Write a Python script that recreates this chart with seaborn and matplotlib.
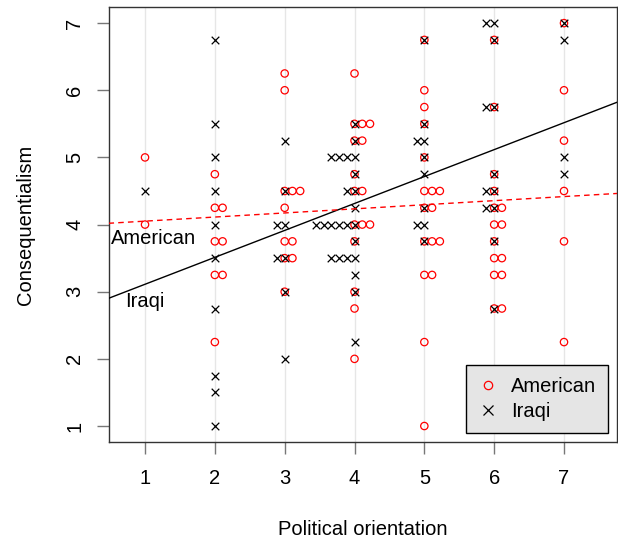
import matplotlib
matplotlib.use("Agg")
import matplotlib.pyplot as plt
from matplotlib.lines import Line2D
import pandas as pd
import seaborn as sns

# political orientation categories on the x axis
orientation = [1, 2, 3, 4, 5, 6, 7]

# consequentialism scores, one list per orientation value
american_scores = [
    [5.0, 4.0],
    [4.75, 4.25, 4.25, 3.75, 3.75, 3.25, 3.25, 2.25],
    [6.25, 6.0, 4.5, 4.5, 4.5, 4.25, 3.75, 3.75, 3.5, 3.5, 3.0],
    [6.25, 5.5, 5.5, 5.5, 5.25, 5.25, 4.75, 4.5, 4.5, 4.0, 4.0, 4.0, 3.75, 3.0, 2.75, 2.0],
    [6.75, 6.0, 5.75, 5.5, 5.0, 4.5, 4.5, 4.5, 4.25, 4.25, 3.75, 3.75, 3.75, 3.25, 3.25, 2.25, 1.0],
    [6.75, 5.75, 4.75, 4.5, 4.25, 4.25, 4.0, 4.0, 3.75, 3.5, 3.5, 3.25, 3.25, 2.75, 2.75],
    [7.0, 6.0, 5.25, 4.5, 3.75, 2.25],
]
iraqi_scores = [
    [4.5],
    [6.75, 5.5, 5.0, 4.5, 4.0, 3.5, 2.75, 1.75, 1.5, 1.0],
    [5.25, 4.5, 4.0, 4.0, 3.5, 3.5, 3.0, 2.0],
    [5.5, 5.25, 5.0, 5.0, 5.0, 5.0, 4.75, 4.5, 4.5, 4.25,
     4.0, 4.0, 4.0, 4.0, 4.0, 4.0, 3.75, 3.5, 3.5, 3.5, 3.5, 3.25, 3.0, 2.25],
    [6.75, 5.5, 5.25, 5.25, 5.0, 4.75, 4.25, 4.0, 4.0, 3.75],
    [7.0, 7.0, 6.75, 5.75, 5.75, 4.75, 4.5, 4.5, 4.25, 4.25, 3.75, 2.75],
    [7.0, 6.75, 5.0, 4.75],
]

# regression lines (intercept, slope)
american_fit = (3.99, 0.061)
iraqi_fit = (2.71, 0.401)

STACK = 0.111  # horizontal offset between tied points


def to_frame(scores, step):
    rows = [(x, y) for x, ys in zip(orientation, scores) for y in ys]
    df = pd.DataFrame(rows, columns=["orientation", "score"])
    # ties are stacked sideways: Americans to the right, Iraqis to the left
    rank = df.groupby(["orientation", "score"]).cumcount()
    df["xpos"] = df["orientation"] + step * rank
    return df


sns.set_style("white")
plt.rcParams["font.family"] = ["Liberation Sans", "DejaVu Sans"]
plt.rcParams["font.size"] = 14.5
plt.rcParams["text.color"] = "black"
plt.rcParams["axes.labelcolor"] = "black"
plt.rcParams["xtick.color"] = "black"
plt.rcParams["ytick.color"] = "black"

american = to_frame(american_scores, STACK)
iraqi = to_frame(iraqi_scores, -STACK)

fig = plt.figure(figsize=(6.18, 5.4), dpi=100)
ax = fig.add_axes([108.5 / 618, 98 / 540, 508.5 / 618, 435 / 540])

for x in orientation:
    ax.axvline(x, color="#E6E6E6", lw=1, zorder=0)

sns.scatterplot(data=american, x="xpos", y="score", marker="o", s=28,
                facecolor="none", edgecolor="red", linewidth=0.9, ax=ax, zorder=2)
sns.scatterplot(data=iraqi, x="xpos", y="score", marker="x", s=30,
                color="black", linewidth=0.9, ax=ax, zorder=3)

ax.axline((0, iraqi_fit[0]), slope=iraqi_fit[1], color="black", lw=1, zorder=4)
ax.axline((0, american_fit[0]), slope=american_fit[1], color="red", lw=1,
          ls=(0, (4, 3)), zorder=4)

ax.text(1.12, 3.79, "American", ha="center", va="center")
ax.text(1.0, 2.86, "Iraqi", ha="center", va="center")

ax.set_xlim(0.477, 7.759)
ax.set_ylim(0.762, 7.24)
ax.set_xticks(orientation)
ax.set_yticks(range(1, 8))
ax.tick_params(axis="both", bottom=True, left=True, length=8.6, width=1,
               color="#777777", labelcolor="black", labelsize=14.5)
ax.tick_params(axis="x", pad=11)
ax.tick_params(axis="y", pad=9, labelrotation=90)
for lab in ax.get_yticklabels():
    lab.set_va("center")
for side in ["left", "bottom", "top", "right"]:
    ax.spines[side].set_color("#333333")
    ax.spines[side].set_linewidth(1)

ax.set_xlabel("Political orientation", labelpad=23)
ax.set_ylabel("Consequentialism", labelpad=22)

handles = [
    Line2D([], [], ls="none", marker="o", ms=6, mfc="none", mec="red", mew=0.9),
    Line2D([], [], ls="none", marker="x", ms=6.5, color="black", mew=0.9),
]
leg = ax.legend(handles, ["American", "Iraqi"], loc="lower right",
                bbox_to_anchor=(0.982, 0.021), borderaxespad=0, fancybox=False,
                framealpha=1, facecolor="#E5E5E5", edgecolor="black",
                handlelength=1.0, handletextpad=0.6, borderpad=0.6,
                labelspacing=0.3, fontsize=14.5)
leg.get_frame().set_linewidth(1)

fig.savefig("out.png", dpi=100)
